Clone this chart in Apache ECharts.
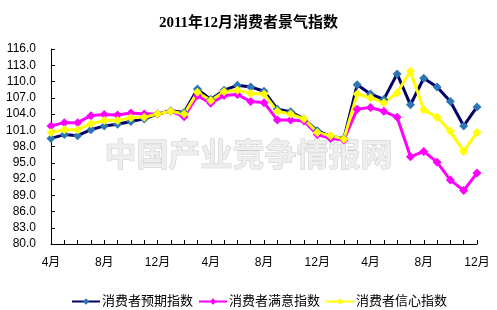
<!DOCTYPE html>
<html>
<head>
<meta charset="utf-8">
<script src="https://cdn.jsdelivr.net/npm/echarts@6/dist/echarts.min.js"></script>
<style>html,body{margin:0;padding:0;background:#fff;}#c{width:497px;height:310px;}</style>
</head>
<body>
<div id="c"></div>
<script>
var titleText = '2011年12月消费者景气指数';
var watermark = '中国产业竞争情报网';
var categories = ['4月','5月','6月','7月','8月','9月','10月','11月','12月',
  '1月','2月','3月','4月','5月','6月','7月','8月','9月','10月','11月','12月',
  '1月','2月','3月','4月','5月','6月','7月','8月','9月','10月','11月','12月'];
var seriesNames = ['消费者预期指数','消费者满意指数','消费者信心指数'];
var expectation = [99.5,100.2,100.0,101.1,101.8,102.1,102.6,103.1,104.0,104.6,104.3,108.6,106.7,108.4,109.3,109.0,108.2,104.9,104.4,103.1,100.9,99.9,99.5,109.4,107.7,106.7,111.4,105.7,110.6,109.0,106.3,101.8,105.3];
var satisfaction = [101.8,102.4,102.4,103.7,103.9,103.8,104.2,104.0,104.0,104.5,103.5,107.4,106.0,107.4,107.6,106.3,106.1,102.9,102.9,102.7,100.2,99.5,99.2,104.9,105.2,104.5,103.4,96.1,97.1,95.1,91.8,89.9,93.1];
var confidence = [100.6,101.1,101.1,102.2,102.8,102.8,103.3,103.4,104.0,104.5,104.0,108.0,106.5,108.1,108.4,107.8,107.7,104.5,104.0,103.1,100.6,100.0,99.4,107.7,107.0,106.1,107.9,111.9,104.8,103.4,100.8,97.1,100.6];
var yMin = 80, yMax = 116, yStep = 3;

var chart = echarts.init(document.getElementById('c'), null, {renderer: 'canvas'});
var font = '"Liberation Sans", "Noto Sans CJK SC", sans-serif';
function mk(name, data, lineColor, markColor) {
  return {
    name: name, type: 'line', data: data,
    symbol: 'diamond', symbolSize: 9, showAllSymbol: true,
    lineStyle: {color: lineColor, width: 3},
    itemStyle: {color: markColor},
    animation: false
  };
}
chart.setOption({
  backgroundColor: '#fff',
  animation: false,
  title: {
    text: titleText, left: 'center', top: 11,
    textStyle: {fontFamily: '"Liberation Serif", "Noto Sans CJK SC", serif', fontSize: 15, fontWeight: 'bold', color: '#000'}
  },
  graphic: [{
    type: 'text', left: 104, top: 137, z: 0,
    style: {text: watermark, font: 'bold 32px "Noto Sans CJK SC"', fill: '#eeeeee', stroke: '#cccccc', lineWidth: 1}
  }],
  legend: {
    left: 66, top: 290, itemWidth: 28, itemHeight: 8, itemGap: 5,
    textStyle: {fontFamily: font, fontSize: 13, color: '#000', padding: [0, 0, 0, -3]},
    data: seriesNames
  },
  grid: {left: 51, right: 20, top: 49, bottom: 66, containLabel: false},
  xAxis: {
    type: 'category', data: categories, boundaryGap: false,
    axisLine: {lineStyle: {color: '#000', width: 1}},
    axisTick: {inside: true, length: 4, interval: 0, lineStyle: {color: '#000'}},
    axisLabel: {interval: 3, margin: 13, fontFamily: font, fontSize: 12, color: '#000'},
    splitLine: {show: false}
  },
  yAxis: {
    type: 'value', min: yMin, max: yMax, interval: yStep,
    axisLine: {show: true, lineStyle: {color: '#000', width: 1}},
    axisTick: {show: true, inside: true, length: 4, lineStyle: {color: '#000'}},
    axisLabel: {margin: 15, fontFamily: font, fontSize: 12, color: '#000',
      formatter: function (v) { return v.toFixed(1); }},
    splitLine: {show: false}
  },
  series: [
    mk(seriesNames[0], expectation, '#000066', '#2e75b6'),
    mk(seriesNames[1], satisfaction, '#ff00ff', '#ff00ff'),
    mk(seriesNames[2], confidence, '#ffff00', '#ffff00')
  ]
});
</script>
</body>
</html>
